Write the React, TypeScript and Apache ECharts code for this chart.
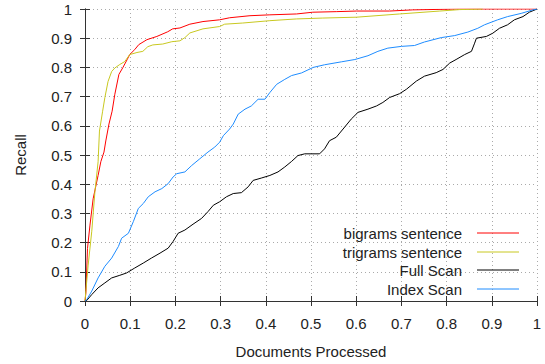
import React, { useEffect, useRef } from "react";
import * as echarts from "echarts";

const seriesNames = ["bigrams sentence", "trigrams sentence", "Full Scan", "Index Scan"];
const seriesColors = ["#ff0000", "#c8c820", "#000000", "#1e8cff"];

const xTicks = [0, 0.1, 0.2, 0.3, 0.4, 0.5, 0.6, 0.7, 0.8, 0.9, 1];
const yTicks = [0, 0.1, 0.2, 0.3, 0.4, 0.5, 0.6, 0.7, 0.8, 0.9, 1];

const bigrams: [number, number][] = [
  [0, 0], [0.002, 0.028], [0.0055, 0.18], [0.011, 0.26], [0.018, 0.35], [0.029, 0.43],
  [0.035, 0.477], [0.042, 0.51], [0.046, 0.548], [0.053, 0.606], [0.06, 0.65], [0.066, 0.708],
  [0.075, 0.776], [0.084, 0.8], [0.093, 0.826], [0.099, 0.844], [0.11, 0.861], [0.119, 0.878],
  [0.137, 0.895], [0.159, 0.906], [0.183, 0.922], [0.194, 0.932], [0.21, 0.935], [0.232, 0.948],
  [0.261, 0.957], [0.298, 0.963], [0.32, 0.97], [0.365, 0.977], [0.409, 0.98], [0.468, 0.983],
  [0.504, 0.989], [0.557, 0.991], [0.601, 0.993], [0.674, 0.993], [0.725, 0.997], [0.829, 1.0],
  [1, 1],
];

const trigrams: [number, number][] = [
  [0, 0], [0.002, 0.035], [0.007, 0.123], [0.015, 0.239], [0.022, 0.375], [0.029, 0.477],
  [0.032, 0.582], [0.039, 0.65], [0.044, 0.697], [0.051, 0.752], [0.059, 0.786], [0.066, 0.798],
  [0.077, 0.81], [0.088, 0.82], [0.099, 0.844], [0.115, 0.851], [0.128, 0.855], [0.139, 0.871],
  [0.15, 0.877], [0.172, 0.88], [0.192, 0.888], [0.21, 0.891], [0.221, 0.902], [0.232, 0.918],
  [0.261, 0.932], [0.298, 0.94], [0.309, 0.948], [0.349, 0.952], [0.409, 0.96], [0.468, 0.966],
  [0.526, 0.969], [0.601, 0.972], [0.696, 0.983], [0.785, 0.993], [0.829, 0.998], [0.88, 1.0],
];

const fullScan: [number, number][] = [
  [0, 0], [0.004, 0.002], [0.015, 0.022], [0.029, 0.045], [0.044, 0.062], [0.059, 0.079],
  [0.077, 0.088], [0.092, 0.096], [0.11, 0.113], [0.129, 0.13], [0.147, 0.147], [0.166, 0.164],
  [0.184, 0.181], [0.195, 0.204], [0.206, 0.232], [0.221, 0.243], [0.239, 0.263], [0.258, 0.283],
  [0.272, 0.306], [0.284, 0.328], [0.298, 0.34], [0.313, 0.357], [0.328, 0.368], [0.346, 0.371],
  [0.361, 0.391], [0.372, 0.413], [0.39, 0.421], [0.409, 0.43], [0.427, 0.442], [0.442, 0.459],
  [0.457, 0.478], [0.471, 0.498], [0.486, 0.504], [0.519, 0.504], [0.53, 0.521], [0.541, 0.549],
  [0.556, 0.561], [0.571, 0.589], [0.589, 0.623], [0.604, 0.646], [0.626, 0.657], [0.645, 0.668],
  [0.659, 0.68], [0.674, 0.697], [0.696, 0.71], [0.711, 0.725], [0.733, 0.753], [0.751, 0.77],
  [0.777, 0.782], [0.792, 0.793], [0.807, 0.815], [0.821, 0.827], [0.84, 0.844], [0.855, 0.855],
  [0.862, 0.883], [0.866, 0.9], [0.888, 0.906], [0.902, 0.917], [0.917, 0.934], [0.935, 0.946],
  [0.95, 0.963], [0.969, 0.974], [0.983, 0.989], [1, 1],
];

const indexScan: [number, number][] = [
  [0, 0], [0.004, 0.005], [0.015, 0.034], [0.029, 0.079], [0.044, 0.119], [0.059, 0.147],
  [0.074, 0.187], [0.081, 0.215], [0.096, 0.232], [0.107, 0.272], [0.118, 0.317], [0.129, 0.334],
  [0.14, 0.357], [0.155, 0.374], [0.17, 0.385], [0.184, 0.402], [0.195, 0.425], [0.203, 0.436],
  [0.221, 0.442], [0.236, 0.464], [0.254, 0.487], [0.272, 0.51], [0.287, 0.527], [0.298, 0.544],
  [0.306, 0.566], [0.32, 0.589], [0.328, 0.606], [0.339, 0.64], [0.354, 0.657], [0.368, 0.668],
  [0.383, 0.691], [0.398, 0.691], [0.409, 0.714], [0.424, 0.742], [0.442, 0.759], [0.457, 0.772],
  [0.479, 0.781], [0.505, 0.8], [0.53, 0.809], [0.567, 0.819], [0.597, 0.827], [0.626, 0.84],
  [0.648, 0.855], [0.67, 0.866], [0.7, 0.872], [0.729, 0.875], [0.751, 0.887], [0.788, 0.902],
  [0.818, 0.909], [0.847, 0.921], [0.869, 0.934], [0.884, 0.946], [0.913, 0.963], [0.935, 0.974],
  [0.965, 0.985], [0.991, 0.997], [1, 1],
];

const seriesData = [bigrams, trigrams, fullScan, indexScan];

const FONT = "'Liberation Sans', Arial, sans-serif";

export default function App() {
  const ref = useRef<HTMLDivElement>(null);
  useEffect(() => {
    if (!ref.current) return;
    const chart = echarts.init(ref.current, null, { renderer: "svg" });
    const axisLine = { show: true, lineStyle: { color: "#333", width: 1 } };
    const tick = { show: true, inside: true, length: 5, lineStyle: { color: "#333" } };
    const split = { show: true, lineStyle: { color: "#aaa", type: [1, 3] as any, width: 1 } };
    const label = { fontFamily: FONT, fontSize: 15, color: "#222" };
    const fmt = (v: number) => String(Math.round(v * 10) / 10);
    const gridLeft = 85, gridTop = 9, gridRight = 8, gridBottom = 61;
    const legendYs = [233, 252, 270, 289];
    const graphics: any[] = [];
    seriesNames.forEach((n, i) => {
      graphics.push({
        type: "text",
        x: 462,
        y: legendYs[i],
        style: { text: n, fill: "#222", font: `15px ${FONT}`, textAlign: "right", textVerticalAlign: "middle" },
        z: 100,
      });
      graphics.push({
        type: "line",
        shape: { x1: 477, y1: legendYs[i], x2: 519, y2: legendYs[i] },
        style: { stroke: seriesColors[i], lineWidth: 1 },
        z: 100,
      });
    });
    chart.setOption({
      animation: false,
      grid: { left: gridLeft, top: gridTop, right: gridRight, bottom: gridBottom, containLabel: false },
      xAxis: [
        {
          type: "value", min: xTicks[0], max: xTicks[xTicks.length - 1], interval: 0.1, position: "bottom",
          name: "Documents Processed", nameLocation: "middle", nameGap: 43,
          nameTextStyle: { fontFamily: FONT, fontSize: 15, color: "#222" },
          axisLine, axisTick: tick, splitLine: split,
          axisLabel: { ...label, margin: 15, formatter: fmt },
        },
        {
          type: "value", min: 0, max: 1, interval: 0.1, position: "top",
          axisLine, axisTick: tick, splitLine: { show: false }, axisLabel: { show: false },
        },
      ],
      yAxis: [
        {
          type: "value", min: yTicks[0], max: yTicks[yTicks.length - 1], interval: 0.1, position: "left",
          name: "Recall", nameLocation: "middle", nameGap: 57, nameRotate: 90,
          nameTextStyle: { fontFamily: FONT, fontSize: 15, color: "#222" },
          axisLine, axisTick: tick, splitLine: split,
          axisLabel: { ...label, margin: 13, formatter: fmt },
        },
        {
          type: "value", min: 0, max: 1, interval: 0.1, position: "right",
          axisLine, axisTick: tick, splitLine: { show: false }, axisLabel: { show: false },
        },
      ],
      series: seriesNames.map((n, i) => ({
        name: n,
        type: "line",
        data: seriesData[i],
        showSymbol: false,
        symbol: "none",
        lineStyle: { color: seriesColors[i], width: 1 },
        itemStyle: { color: seriesColors[i] },
        clip: true,
      })),
      graphic: graphics,
    });
    return () => chart.dispose();
  }, []);
  return <div ref={ref} style={{ width: 545, height: 364, position: "absolute", left: 0, top: 0 }} />;
}
